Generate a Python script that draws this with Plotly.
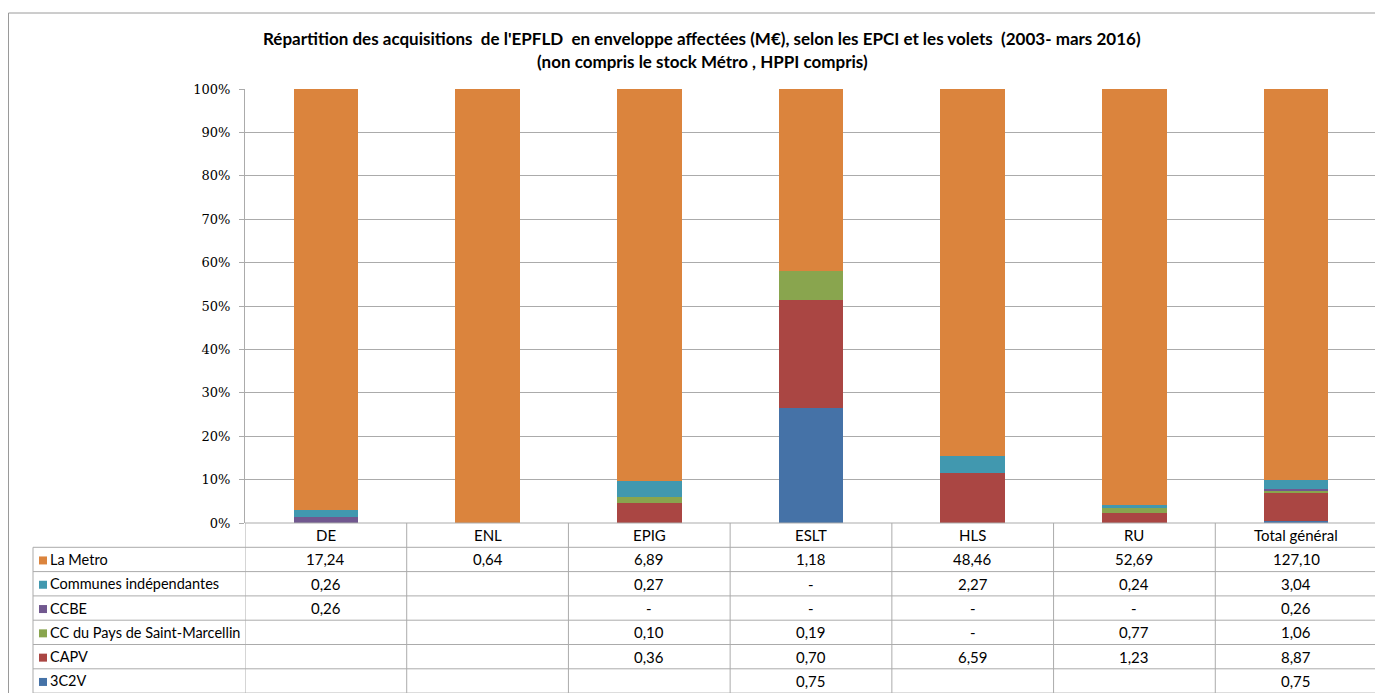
import plotly.graph_objects as go

# ---------------- data ----------------
categories = ["DE", "ENL", "EPIG", "ESLT", "HLS", "RU", "Total général"]
# None = empty cell, 0 = "-" (zero) in the data table
la_metro = [17.24, 0.64, 6.89, 1.18, 48.46, 52.69, 127.10]
communes_indep = [0.26, None, 0.27, 0, 2.27, 0.24, 3.04]
ccbe = [0.26, None, 0, 0, 0, 0, 0.26]
cc_saint_marcellin = [None, None, 0.10, 0.19, 0, 0.77, 1.06]
capv = [None, None, 0.36, 0.70, 6.59, 1.23, 8.87]
c3c2v = [None, None, None, 0.75, None, None, 0.75]

series_names = ["La Metro", "Communes indépendantes", "CCBE",
                "CC du Pays de Saint-Marcellin", "CAPV", "3C2V"]
series_values = [la_metro, communes_indep, ccbe, cc_saint_marcellin, capv, c3c2v]
series_colors = ["#DB843D", "#4198AF", "#71588F", "#89A54E", "#AA4643", "#4572A7"]

title_line1 = "Répartition des acquisitions  de l'EPFLD  en enveloppe affectées (M€), selon les EPCI et les volets  (2003- mars 2016)"
title_line2 = "(non compris le stock Métro , HPPI compris)"

# ---------------- layout geometry (pixels of the browser window) ----------------
OFF = 8                     # default body margin of the html page
W, H = 1383 - OFF, 693 - OFF
L, R = 245 - OFF, 1377 - OFF      # plot area left/right
T, B = 89 - OFF, 523 - OFF        # plot area top/bottom (100% / 0%)
row_h = 24.3
label_left = 33 - OFF
table_font = "Lato, Carlito, sans-serif"


def px_x(px):
    return (px - L) / (R - L)


def px_y(py):
    return (B - py) / (B - T)


def fmt(v):
    if v is None:
        return ""
    if v == 0:
        return "-"
    return f"{v:.2f}".replace(".", ",")


fig = go.Figure()

# bars: bottom of stack first
for name, vals, col in reversed(list(zip(series_names, series_values, series_colors))):
    fig.add_trace(go.Bar(
        x=categories,
        y=[v if v is not None else 0 for v in vals],
        name=name,
        marker=dict(color=col, line=dict(width=0)),
        hovertemplate=name + ": %{y}<extra></extra>",
    ))

shapes = []
annotations = []
grid_col = "#ABABAB"

# outer chart border (top / left)
shapes.append(dict(type="line", xref="paper", yref="paper",
                   x0=px_x(8 - OFF + 0.5), x1=px_x(W + 5), y0=px_y(13 - OFF), y1=px_y(13 - OFF),
                   line=dict(color="#9A9A9A", width=1)))
shapes.append(dict(type="line", xref="paper", yref="paper",
                   x0=px_x(8 - OFF + 0.5), x1=px_x(8 - OFF + 0.5), y0=px_y(13 - OFF), y1=px_y(H + 5),
                   line=dict(color="#9A9A9A", width=1)))

n_rows = len(series_names)
table_bottom = B + row_h * (n_rows + 1)

shapes.append(dict(type="line", xref="paper", yref="paper",
                   x0=0, x1=1, y0=0, y1=0, line=dict(color=grid_col, width=1)))
for r in range(n_rows + 1):
    yy = B + row_h * (r + 1)
    shapes.append(dict(type="line", xref="paper", yref="paper",
                       x0=px_x(label_left), x1=1, y0=px_y(yy), y1=px_y(yy),
                       line=dict(color=grid_col, width=1)))

for i in range(len(categories) + 1):
    shapes.append(dict(type="line", xref="x", yref="paper",
                       x0=i - 0.5, x1=i - 0.5, y0=0, y1=px_y(table_bottom),
                       line=dict(color=grid_col, width=1)))
shapes.append(dict(type="line", xref="paper", yref="paper",
                   x0=px_x(label_left), x1=px_x(label_left),
                   y0=px_y(B + row_h), y1=px_y(table_bottom),
                   line=dict(color=grid_col, width=1)))

# header texts
for i, c in enumerate(categories):
    annotations.append(dict(x=i, y=px_y(B + row_h / 2), xref="x", yref="paper",
                            text=c, showarrow=False, xanchor="center", yanchor="middle",
                            font=dict(family=table_font, size=15, color="#000")))

# rows
for r, (name, vals, col) in enumerate(zip(series_names, series_values, series_colors)):
    yc = B + row_h * (r + 1) + row_h / 2
    shapes.append(dict(type="rect", xref="paper", yref="paper",
                       x0=px_x(39 - OFF), x1=px_x(47 - OFF), y0=px_y(yc - 3), y1=px_y(yc + 5),
                       fillcolor=col, line=dict(width=0)))
    annotations.append(dict(x=px_x(48 - OFF), y=px_y(yc), xref="paper", yref="paper",
                            text=name, showarrow=False, xanchor="left", yanchor="middle",
                            font=dict(family=table_font, size=14.5, color="#000")))
    for i, v in enumerate(vals):
        t = fmt(v)
        if t:
            annotations.append(dict(x=i, y=px_y(yc), xref="x", yref="paper",
                                    text=t, showarrow=False, xanchor="center", yanchor="middle",
                                    font=dict(family=table_font, size=15, color="#000")))

# title
annotations.append(dict(x=px_x(702 - OFF), y=px_y(38 - OFF), xref="paper", yref="paper",
                        text="<b>" + title_line1 + "</b>", showarrow=False,
                        xanchor="center", yanchor="middle",
                        font=dict(family=table_font, size=17, color="#000")))
annotations.append(dict(x=px_x(702 - OFF), y=px_y(61 - OFF), xref="paper", yref="paper",
                        text="<b>" + title_line2 + "</b>", showarrow=False,
                        xanchor="center", yanchor="middle",
                        font=dict(family=table_font, size=17, color="#000")))

fig.update_layout(
    width=W, height=H,
    margin=dict(l=L, r=W - R, t=T, b=H - B, pad=0),
    paper_bgcolor="white", plot_bgcolor="white",
    barmode="stack", barnorm="percent", bargap=0.6,
    showlegend=False,
    shapes=shapes, annotations=annotations,
    xaxis=dict(showticklabels=False, showgrid=False, zeroline=False,
               showline=False, ticks="", range=[-0.5, len(categories) - 0.5],
               fixedrange=True),
    yaxis=dict(range=[0, 100], dtick=10, ticksuffix="%",
               showgrid=True, gridcolor=grid_col, gridwidth=1,
               showline=True, linecolor=grid_col, linewidth=1,
               ticks="outside", ticklen=5, tickcolor=grid_col,
               ticklabelstandoff=6,
               zeroline=False,
               tickfont=dict(family="DejaVu Serif, Liberation Serif, serif", size=13, color="#000"),
               fixedrange=True),
)

fig.write_html("out.html")
